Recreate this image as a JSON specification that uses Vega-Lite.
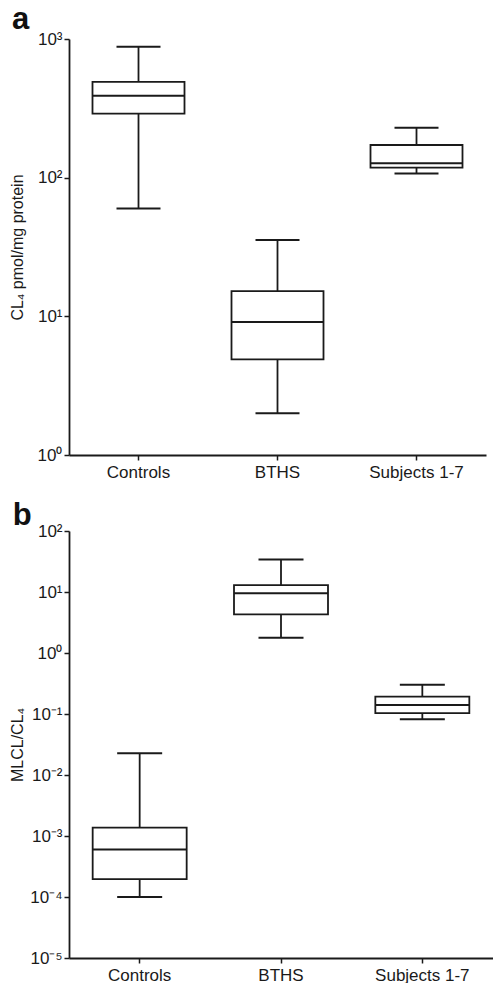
{
  "$schema": "https://vega.github.io/schema/vega-lite/v6.json",
  "padding": {"left": 9, "right": 0, "top": 4, "bottom": 0},
  "background": "white",
  "datasets": {
    "a": [
      {"group": "Controls", "min": 60, "q1": 290, "median": 390, "q3": 490, "max": 880},
      {"group": "BTHS", "min": 2.0, "q1": 4.9, "median": 9.1, "q3": 15.2, "max": 35.5},
      {"group": "Subjects 1-7", "min": 107, "q1": 118, "median": 127, "q3": 172, "max": 229}
    ],
    "b": [
      {"group": "Controls", "min": 0.0001, "q1": 0.000197, "median": 0.0006, "q3": 0.00137, "max": 0.0227},
      {"group": "BTHS", "min": 1.78, "q1": 4.3, "median": 9.5, "q3": 13.0, "max": 34},
      {"group": "Subjects 1-7", "min": 0.082, "q1": 0.103, "median": 0.141, "q3": 0.192, "max": 0.302}
    ]
  },
  "config": {
    "font": "Liberation Sans",
    "view": {"stroke": null},
    "axis": {
      "grid": false,
      "domainColor": "#1a1a1a",
      "domainWidth": 1.8,
      "tickColor": "#1a1a1a",
      "tickWidth": 1.5,
      "tickSize": 5,
      "labelColor": "#1a1a1a",
      "labelFont": "Liberation Sans",
      "labelFontSize": 17,
      "titleFont": "Liberation Sans",
      "titleFontWeight": "normal",
      "titleColor": "#1a1a1a",
      "titleFontSize": 16
    },
    "concat": {"spacing": 20},
    "title": {"font": "Liberation Sans", "fontWeight": "bold", "fontSize": 31, "color": "#111", "anchor": "start", "frame": "bounds"}
  },
  "vconcat": [
    {
      "width": 417,
      "height": 416,
      "title": {"text": "a", "dx": 3, "offset": -6},
      "data": {"name": "a"},
      "encoding": {
        "x": {"field": "group", "type": "nominal", "sort": ["Controls", "BTHS", "Subjects 1-7"],
          "scale": {"paddingInner": 0, "paddingOuter": 0},
          "axis": {"title": null, "labelAngle": 0, "labelPadding": 4}}
      },
      "layer": [
        {
          "mark": {"type": "rule", "color": "#1a1a1a", "strokeWidth": 1.8},
          "encoding": {
            "y": {"field": "min", "type": "quantitative",
              "scale": {"type": "log", "domain": [1, 1000], "nice": false},
              "axis": {"title": "CL₄ pmol/mg protein", "values": [1, 10, 100, 1000], "titlePadding": 12,
                "labelExpr": "'10' + ['⁻⁵','⁻⁴','⁻³','⁻²','⁻¹','⁰','¹','²','³'][round(log(datum.value)/LN10)+5]"}},
            "y2": {"field": "max"}
          }
        },
        {
          "mark": {"type": "bar", "fill": "white", "stroke": "#1a1a1a", "strokeWidth": 1.8, "size": 92},
          "encoding": {"y": {"field": "q1", "type": "quantitative"}, "y2": {"field": "q3"}}
        },
        {
          "mark": {"type": "tick", "color": "#1a1a1a", "opacity": 1, "thickness": 2, "size": 92},
          "encoding": {"y": {"field": "median", "type": "quantitative"}}
        },
        {
          "mark": {"type": "tick", "color": "#1a1a1a", "opacity": 1, "thickness": 2, "size": 44},
          "encoding": {"y": {"field": "min", "type": "quantitative"}}
        },
        {
          "mark": {"type": "tick", "color": "#1a1a1a", "opacity": 1, "thickness": 2, "size": 44},
          "encoding": {"y": {"field": "max", "type": "quantitative"}}
        }
      ]
    },
    {
      "width": 424,
      "height": 427,
      "title": {"text": "b", "dx": 3, "offset": -10},
      "data": {"name": "b"},
      "encoding": {
        "x": {"field": "group", "type": "nominal", "sort": ["Controls", "BTHS", "Subjects 1-7"],
          "scale": {"paddingInner": 0, "paddingOuter": 0},
          "axis": {"title": null, "labelAngle": 0, "labelPadding": 4}}
      },
      "layer": [
        {
          "mark": {"type": "rule", "color": "#1a1a1a", "strokeWidth": 1.8},
          "encoding": {
            "y": {"field": "min", "type": "quantitative",
              "scale": {"type": "log", "domain": [0.00001, 100], "nice": false},
              "axis": {"title": "MLCL/CL₄", "values": [0.00001, 0.0001, 0.001, 0.01, 0.1, 1, 10, 100], "titlePadding": 4,
                "labelExpr": "'10' + ['⁻⁵','⁻⁴','⁻³','⁻²','⁻¹','⁰','¹','²','³'][round(log(datum.value)/LN10)+5]"}},
            "y2": {"field": "max"}
          }
        },
        {
          "mark": {"type": "bar", "fill": "white", "stroke": "#1a1a1a", "strokeWidth": 1.8, "size": 94},
          "encoding": {"y": {"field": "q1", "type": "quantitative"}, "y2": {"field": "q3"}}
        },
        {
          "mark": {"type": "tick", "color": "#1a1a1a", "opacity": 1, "thickness": 2, "size": 94},
          "encoding": {"y": {"field": "median", "type": "quantitative"}}
        },
        {
          "mark": {"type": "tick", "color": "#1a1a1a", "opacity": 1, "thickness": 2, "size": 45},
          "encoding": {"y": {"field": "min", "type": "quantitative"}}
        },
        {
          "mark": {"type": "tick", "color": "#1a1a1a", "opacity": 1, "thickness": 2, "size": 45},
          "encoding": {"y": {"field": "max", "type": "quantitative"}}
        }
      ]
    }
  ]
}
